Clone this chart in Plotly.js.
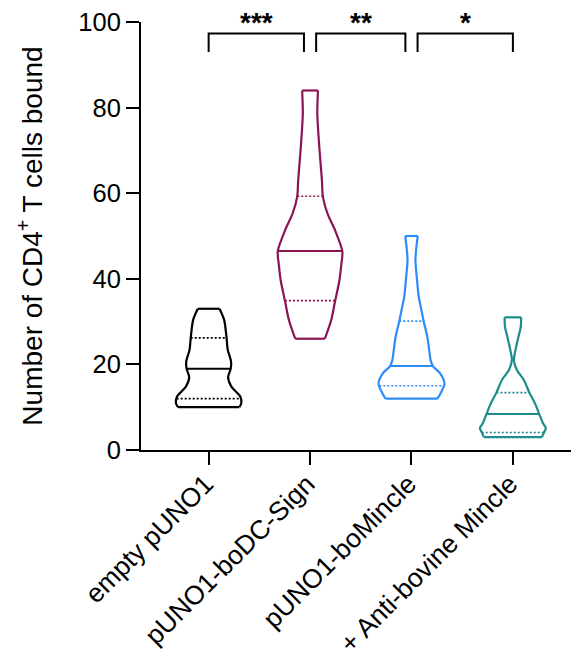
<!DOCTYPE html>
<html>
<head>
<meta charset="utf-8">
<script src="https://cdn.plot.ly/plotly-3.0.1.min.js"></script>
<style>html,body{margin:0;padding:0;background:#fff;}#chart{width:571px;height:649px;}</style>
</head>
<body>
<div id="chart"></div>
<script>
// ---- data ----
const categories = ['empty pUNO1', 'pUNO1-boDC-Sign', 'pUNO1-boMincle', '+ Anti-bovine Mincle'];
const colors = ['#000000', '#8B1553', '#2E8BFA', '#1D8C8C'];

// density profile of each violin (value level, relative density 0..1)
const levels1  = [10.0, 10.9, 12.5, 14.8, 17.0, 19.0, 20.7, 23.4, 26.5, 30.4, 33.0];
const density1 = [0.93, 0.99, 0.96, 0.69, 0.59, 0.67, 0.68, 0.58, 0.54, 0.47, 0.33];
const levels2  = [26.0, 30.3, 34.8, 39.6, 43.5, 46.4, 51.3, 55.2, 59.2, 63.0, 70.8, 78.6, 84.0];
const density2 = [0.45, 0.64, 0.76, 0.89, 0.95, 0.98, 0.76, 0.53, 0.39, 0.36, 0.28, 0.22, 0.24];
const levels3  = [12.0, 13.5, 15.5, 18.0, 19.6, 21.0, 22.6, 26.5, 30.1, 33.5, 35.8, 40.5, 44.4, 47.5, 50.0];
const density3 = [0.79, 0.90, 1.00, 0.86, 0.65, 0.58, 0.55, 0.48, 0.37, 0.28, 0.22, 0.16, 0.12, 0.15, 0.19];
const levels4  = [3.0, 4.2, 5.1, 6.3, 8.4, 10.9, 13.4, 16.4, 18.7, 21.0, 23.4, 26.5, 28.8, 31.0];
const density4 = [0.88, 0.95, 1.00, 0.91, 0.80, 0.67, 0.50, 0.33, 0.12, 0.03, 0.08, 0.17, 0.24, 0.25];

const medians = [19.0, 46.5, 19.6, 8.4];
const q1s     = [12.0, 34.9, 15.0, 4.1];
const q3s     = [26.2, 59.3, 30.1, 13.4];

const yTicks = [0, 20, 40, 60, 80, 100];
const comparisons = [[0, 1], [1, 2], [2, 3]];
const sigLabels = ['***', '**', '*'];

// ---- build ----
const levels = [levels1, levels2, levels3, levels4];
const densities = [density1, density2, density3, density4];
const HALF = 0.325;          // half width of widest violin, category units
const FONT = 'Liberation Sans, Arial, Helvetica, sans-serif';

function widthAt(lv, dn, v) {
  if (v <= lv[0]) return dn[0];
  for (let i = 1; i < lv.length; i++) {
    if (v <= lv[i]) {
      const t = (v - lv[i - 1]) / (lv[i] - lv[i - 1]);
      return dn[i - 1] + t * (dn[i] - dn[i - 1]);
    }
  }
  return dn[dn.length - 1];
}

const traces = [];
categories.forEach((cat, g) => {
  const lv = levels[g], dn = densities[g];
  const n = lv.length;
  // two curved sides
  [1, -1].forEach(side => {
    traces.push({
      type: 'scatter', mode: 'lines',
      x: dn.map(d => g + side * d * HALF), y: lv.slice(),
      line: {color: colors[g], width: 2.2, shape: 'spline', smoothing: 0.8},
      hoverinfo: 'skip', showlegend: false, name: cat
    });
  });
  // flat ends (min and max)
  traces.push({
    type: 'scatter', mode: 'lines',
    x: [g - dn[0] * HALF, g + dn[0] * HALF, null, g - dn[n - 1] * HALF, g + dn[n - 1] * HALF],
    y: [lv[0], lv[0], null, lv[n - 1], lv[n - 1]],
    line: {color: colors[g], width: 2.2}, connectgaps: false,
    hoverinfo: 'skip', showlegend: false
  });
  const stats = [[medians[g], 'solid'], [q1s[g], '2px,2px'], [q3s[g], '2px,2px']];
  stats.forEach(([v, dash]) => {
    const hw = widthAt(lv, dn, v) * HALF;
    traces.push({
      type: 'scatter', mode: 'lines', x: [g - hw, g + hw], y: [v, v],
      line: {color: colors[g], width: dash === 'solid' ? 2 : 1.6, dash: dash},
      hoverinfo: 'skip', showlegend: false
    });
  });
});

const shapes = [], annotations = [];
const GAP = 0.06, BTOP = 97.3, BLEG = 93.0;
comparisons.forEach(([a, b], i) => {
  const x0 = i > 0 ? a + GAP : a;
  const x1 = i < comparisons.length - 1 ? b - GAP : b;
  shapes.push({
    type: 'path', xref: 'x', yref: 'y',
    path: `M ${x0},${BLEG} L ${x0},${BTOP} L ${x1},${BTOP} L ${x1},${BLEG}`,
    line: {color: '#000', width: 2}
  });
  annotations.push({
    x: (x0 + x1) / 2, y: BTOP, xref: 'x', yref: 'y', yanchor: 'bottom',
    text: sigLabels[i], showarrow: false, yshift: -6,
    font: {family: FONT, size: 28, color: '#000', weight: 'bold'}
  });
});

const layout = {
  width: 571, height: 649,
  margin: {l: 141, r: 0, t: 22, b: 199},
  paper_bgcolor: '#fff', plot_bgcolor: '#fff',
  showlegend: false,
  font: {family: FONT, color: '#000'},
  xaxis: {
    range: [-0.667, 3.573], tickmode: 'array', tickvals: [0, 1, 2, 3], ticktext: categories,
    tickangle: -45, ticks: 'outside', ticklen: 13, tickwidth: 2, tickcolor: '#000',
    ticklabelstandoff: -7, ticklabelshift: -3,
    showline: true, linewidth: 2, linecolor: '#000', showgrid: false, zeroline: false,
    tickfont: {family: FONT, size: 26.5, color: '#000'}
  },
  yaxis: {
    range: [0, 100], tickmode: 'array', tickvals: yTicks, ticktext: yTicks.map(String),
    ticks: 'outside', ticklen: 13, tickwidth: 2, tickcolor: '#000',
    showline: true, linewidth: 2, linecolor: '#000', showgrid: false, zeroline: false,
    tickfont: {family: FONT, size: 25.5, color: '#000'},
    title: {text: 'Number of CD4<sup>+</sup> T cells bound', font: {family: FONT, size: 28, color: '#000'}, standoff: 28}
  },
  shapes: shapes,
  annotations: annotations
};

Plotly.newPlot('chart', traces, layout, {displayModeBar: false, staticPlot: true});
</script>
</body>
</html>
